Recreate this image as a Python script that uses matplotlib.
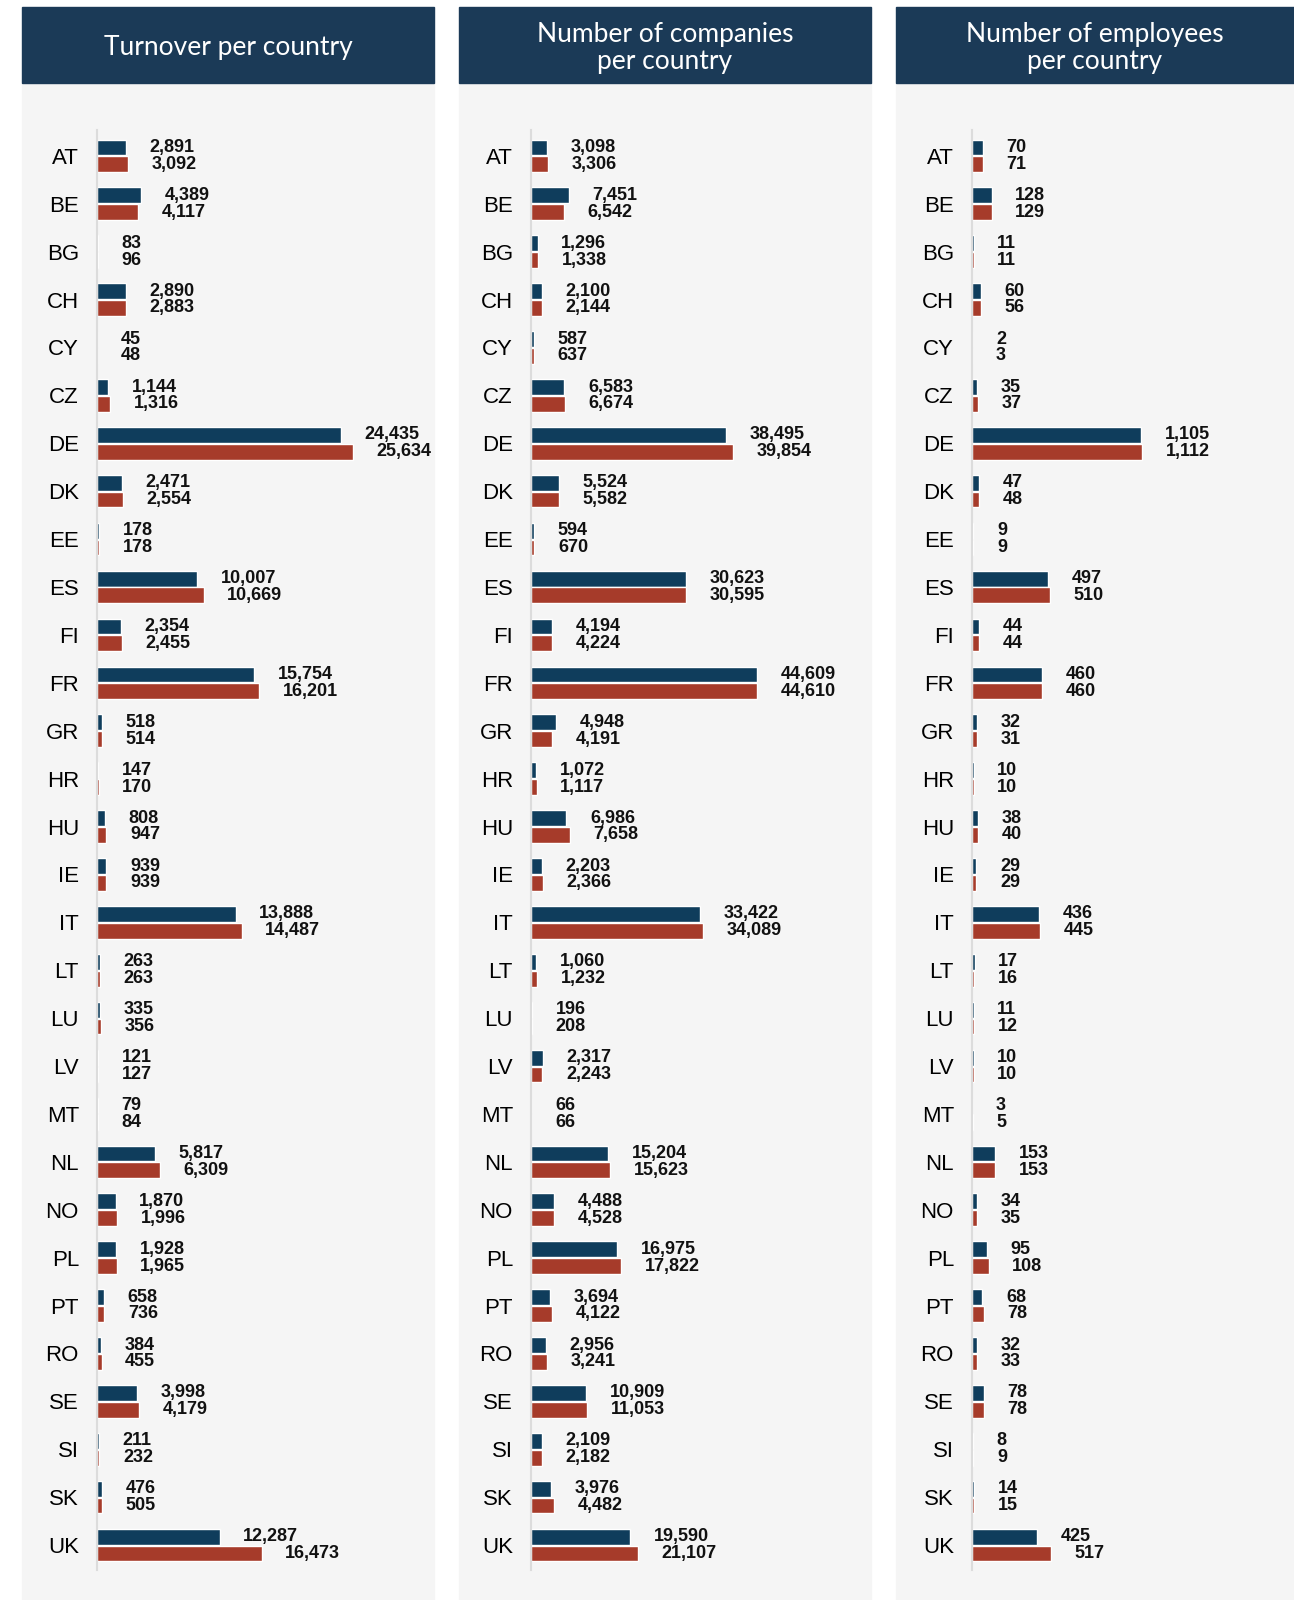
import matplotlib
matplotlib.use("Agg")
from matplotlib import pyplot as plt
from matplotlib.patches import Rectangle

# country codes, top to bottom
countries = ["AT", "BE", "BG", "CH", "CY", "CZ", "DE", "DK", "EE", "ES",
             "FI", "FR", "GR", "HR", "HU", "IE", "IT", "LT", "LU", "LV",
             "MT", "NL", "NO", "PL", "PT", "RO", "SE", "SI", "SK", "UK"]

# turnover (first year = blue, second year = red)
turnover_blue = [2891, 4389, 83, 2890, 45, 1144, 24435, 2471, 178, 10007,
                 2354, 15754, 518, 147, 808, 939, 13888, 263, 335, 121,
                 79, 5817, 1870, 1928, 658, 384, 3998, 211, 476, 12287]
turnover_red = [3092, 4117, 96, 2883, 48, 1316, 25634, 2554, 178, 10669,
                2455, 16201, 514, 170, 947, 939, 14487, 263, 356, 127,
                84, 6309, 1996, 1965, 736, 455, 4179, 232, 505, 16473]

# number of companies
companies_blue = [3098, 7451, 1296, 2100, 587, 6583, 38495, 5524, 594, 30623,
                  4194, 44609, 4948, 1072, 6986, 2203, 33422, 1060, 196, 2317,
                  66, 15204, 4488, 16975, 3694, 2956, 10909, 2109, 3976, 19590]
companies_red = [3306, 6542, 1338, 2144, 637, 6674, 39854, 5582, 670, 30595,
                 4224, 44610, 4191, 1117, 7658, 2366, 34089, 1232, 208, 2243,
                 66, 15623, 4528, 17822, 4122, 3241, 11053, 2182, 4482, 21107]

# number of employees
employees_blue = [70, 128, 11, 60, 2, 35, 1105, 47, 9, 497,
                  44, 460, 32, 10, 38, 29, 436, 17, 11, 10,
                  3, 153, 34, 95, 68, 32, 78, 8, 14, 425]
employees_red = [71, 129, 11, 56, 3, 37, 1112, 48, 9, 510,
                 44, 460, 31, 10, 40, 29, 445, 16, 12, 10,
                 5, 153, 35, 108, 78, 33, 78, 9, 15, 517]

titles = ["Turnover per country",
          "Number of companies\nper country",
          "Number of employees\nper country"]

BLUE = "#0f3d5c"
RED = "#a63b2a"
HEADER = "#1b3a57"
BODY = "#f5f5f5"

W, H = 1294, 1600
fig = plt.figure(figsize=(W / 100, H / 100), dpi=100)
fig.patch.set_facecolor("white")


def px_box(x0, y0, x1, y1):  # pixel box (from top-left) -> figure fraction
    return [x0 / W, 1 - y1 / H, (x1 - x0) / W, (y1 - y0) / H]


# panel left/right edges, axis line position and x range shown
panels = [(22, 434, 97, 33745), (459, 871, 531, 67200), (896, 1294, 972, 2106)]
series = [(turnover_blue, turnover_red),
          (companies_blue, companies_red),
          (employees_blue, employees_red)]

for (left, right, axis_x, xmax), (blue, red), title in zip(panels, series, titles):
    body = px_box(left, 83, right, 1600)
    fig.patches.append(Rectangle((body[0], body[1]), body[2], body[3],
                                 transform=fig.transFigure, color=BODY, zorder=-2))
    head = px_box(left, 7, right, 83)
    fig.patches.append(Rectangle((head[0], head[1]), head[2], head[3],
                                 transform=fig.transFigure, color=HEADER, zorder=-2))
    fig.text(head[0] + head[2] / 2, head[1] + head[3] / 2 - 3 / H, title,
             ha="center", va="center", color="white", fontsize=19,
             family="Lato", linespacing=1.08)

    ax = fig.add_axes(px_box(axis_x, 130, right, 1570))
    ax.patch.set_alpha(0)
    pos = list(range(len(countries)))
    pos_blue = [p - 0.175 for p in pos]
    pos_red = [p + 0.175 for p in pos]
    ax.barh(pos_blue, blue, height=0.33, color=BLUE, edgecolor="white", linewidth=1)
    ax.barh(pos_red, red, height=0.33, color=RED, edgecolor="white", linewidth=1)

    for y, v in zip(pos_blue, blue):
        ax.annotate(f"{v:,}", (v, y), xytext=(17, 0), textcoords="offset points",
                    ha="left", va="center", fontsize=13, fontweight="bold",
                    family="Liberation Sans", color="#111111")
    for y, v in zip(pos_red, red):
        ax.annotate(f"{v:,}", (v, y), xytext=(17, 0), textcoords="offset points",
                    ha="left", va="center", fontsize=13, fontweight="bold",
                    family="Liberation Sans", color="#111111")

    ax.set_xlim(0, xmax)
    ax.set_ylim(29.52, -0.54)
    ax.set_yticks(pos)
    ax.set_yticklabels(countries, family="Liberation Sans", fontsize=16)
    ax.tick_params(axis="y", length=0, pad=13)
    ax.set_xticks([])
    for side in ["top", "right", "bottom"]:
        ax.spines[side].set_visible(False)
    ax.spines["left"].set_color("#dcdcdc")
    ax.spines["left"].set_linewidth(1.5)

fig.savefig("out.png", dpi=100)
